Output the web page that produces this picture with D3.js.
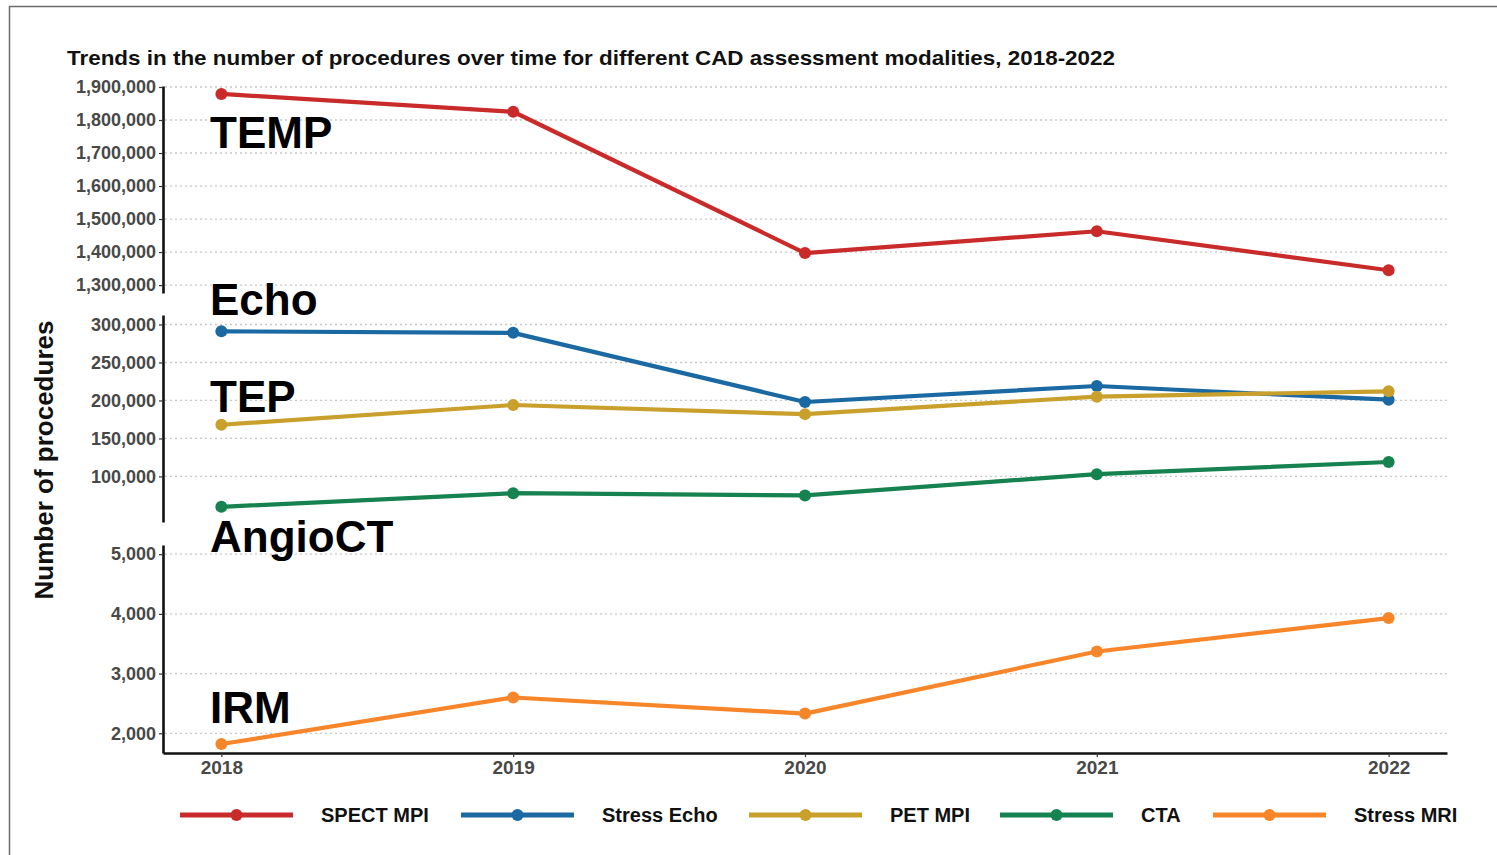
<!DOCTYPE html>
<html>
<head>
<meta charset="utf-8">
<script src="https://cdn.jsdelivr.net/npm/d3@7"></script>
<style>
  html, body { margin: 0; padding: 0; background: #fff; }
  svg { display: block; font-family: "Liberation Sans", Arial, sans-serif; }
</style>
</head>
<body>
<script>
// data
const years = [2018, 2019, 2020, 2021, 2022];
const spectMpi = [1879000, 1825000, 1397000, 1463000, 1345000];
const stressEcho = [291000, 289000, 198000, 219000, 201000];
const petMpi = [168000, 194000, 182000, 205000, 212000];
const cta = [60000, 78000, 75000, 103000, 119000];
const stressMri = [1820, 2600, 2330, 3370, 3930];

const seriesNames = ["SPECT MPI", "Stress Echo", "PET MPI", "CTA", "Stress MRI"];
const seriesColors = ["#c92a2a", "#1b69a3", "#c9a02c", "#168250", "#f7862a"];

const topTicks = [1300000, 1400000, 1500000, 1600000, 1700000, 1800000, 1900000];
const midTicks = [100000, 150000, 200000, 250000, 300000];
const lowTicks = [2000, 3000, 4000, 5000];

const panelLabels = ["TEMP", "Echo", "TEP", "AngioCT", "IRM"];

const title = "Trends in the number of procedures over time for different CAD assessment modalities, 2018-2022";
const yTitle = "Number of procedures";

const W = 1497, H = 855;
const svg = d3.select("body").append("svg").attr("width", W).attr("height", H);

// outer frame
svg.append("rect").attr("x", 9.5).attr("y", 6.5).attr("width", W).attr("height", H)
  .attr("fill", "none").attr("stroke", "#6b6b6b").attr("stroke-width", 1.5);

const x0 = 163, x1 = 1447;
const x = d3.scaleLinear().domain([2017.8, 2022.2]).range([x0, x1]);

// three stacked panels, each with its own y scale
const panels = [
  { y: d3.scaleLinear().domain([1276000, 1903000]).range([293, 86]), ticks: topTicks },
  { y: d3.scaleLinear().domain([40000, 312500]).range([522, 315]), ticks: midTicks },
  { y: d3.scaleLinear().domain([1670, 5154]).range([753, 545]), ticks: lowTicks }
];

const series = [
  { name: seriesNames[0], values: spectMpi, color: seriesColors[0], panel: 0 },
  { name: seriesNames[1], values: stressEcho, color: seriesColors[1], panel: 1 },
  { name: seriesNames[2], values: petMpi, color: seriesColors[2], panel: 1 },
  { name: seriesNames[3], values: cta, color: seriesColors[3], panel: 1 },
  { name: seriesNames[4], values: stressMri, color: seriesColors[4], panel: 2 }
];

const fmt = d3.format(",");

panels.forEach(p => {
  // dotted grid
  svg.append("g").selectAll("line").data(p.ticks).join("line")
    .attr("x1", x0 + 2).attr("x2", x1)
    .attr("y1", d => p.y(d)).attr("y2", d => p.y(d))
    .attr("stroke", "#c8c8c8").attr("stroke-width", 1.3).attr("stroke-dasharray", "2,3");

  const ax = svg.append("g").attr("transform", `translate(${x0},0)`)
    .call(d3.axisLeft(p.y).tickValues(p.ticks).tickFormat(fmt).tickSizeInner(4).tickSizeOuter(0).tickPadding(3));
  ax.select(".domain").attr("stroke", "#111").attr("stroke-width", 2.6);
  ax.selectAll(".tick line").attr("stroke", "#333").attr("stroke-width", 1.2);
  ax.selectAll(".tick text").attr("fill", "#484848").attr("font-size", 18).attr("font-weight", "bold")
    .attr("font-family", "Liberation Sans, Arial, sans-serif");
});

// x axis under the bottom panel
const xa = svg.append("g").attr("transform", "translate(0,753)")
  .call(d3.axisBottom(x).tickValues(years).tickFormat(d3.format("d")).tickSizeInner(4).tickSizeOuter(0).tickPadding(4));
xa.select(".domain").attr("stroke", "#111").attr("stroke-width", 2.6);
xa.selectAll(".tick line").attr("stroke", "#333").attr("stroke-width", 1.2);
xa.selectAll(".tick text").attr("fill", "#484848").attr("font-size", 19).attr("font-weight", "bold")
  .attr("font-family", "Liberation Sans, Arial, sans-serif");

// lines + points
series.forEach(s => {
  const y = panels[s.panel].y;
  const line = d3.line().x((d, i) => x(years[i])).y(d => y(d));
  svg.append("path").datum(s.values).attr("d", line)
    .attr("fill", "none").attr("stroke", s.color).attr("stroke-width", 4.2)
    .attr("stroke-linejoin", "round");
  svg.append("g").selectAll("circle").data(s.values).join("circle")
    .attr("cx", (d, i) => x(years[i])).attr("cy", d => y(d)).attr("r", 6)
    .attr("fill", s.color);
});

// big panel labels
const labelY = [148, 315, 412, 552, 723];
svg.append("g").selectAll("text").data(panelLabels).join("text")
  .attr("x", 210).attr("y", (d, i) => labelY[i])
  .attr("font-size", 44).attr("font-weight", "bold").attr("fill", "#000")
  .text(d => d);

// title
svg.append("text").attr("x", 67).attr("y", 65)
  .attr("font-size", 21).attr("font-weight", "bold").attr("fill", "#111")
  .attr("textLength", 1048).attr("lengthAdjust", "spacingAndGlyphs")
  .text(title);

// y title
svg.append("text").attr("transform", "translate(53,460) rotate(-90)")
  .attr("text-anchor", "middle").attr("font-size", 26).attr("font-weight", "bold").attr("fill", "#111")
  .text(yTitle);

// legend
const legX = [180, 461, 749, 1000, 1213];
const leg = svg.append("g").selectAll("g").data(series).join("g")
  .attr("transform", (d, i) => `translate(${legX[i]},815)`);
leg.append("line").attr("x1", 0).attr("x2", 113)
  .attr("stroke", d => d.color).attr("stroke-width", 5);
leg.append("circle").attr("cx", 56.5).attr("r", 6).attr("fill", d => d.color);
leg.append("text").attr("x", 141).attr("y", 7)
  .attr("font-size", 20).attr("font-weight", "bold").attr("fill", "#111")
  .text(d => d.name);
</script>
</body>
</html>
